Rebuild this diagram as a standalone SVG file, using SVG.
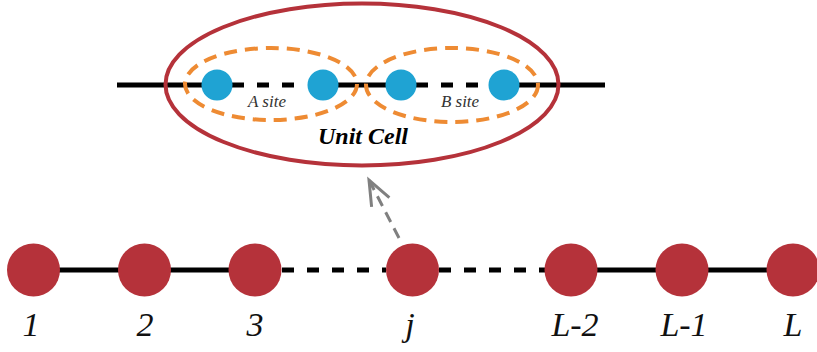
<svg xmlns="http://www.w3.org/2000/svg" width="817" height="352" viewBox="0 0 817 352">
<defs>
<style>
.solid{stroke:#000;stroke-width:5;fill:none}
.dash{stroke:#000;stroke-width:5;fill:none;stroke-dasharray:12 13}
.site{fill:#b5323a}
.blue{fill:#1fa3d3}
.orange{fill:none;stroke:#ee8b33;stroke-width:4;stroke-dasharray:13 8}
.lab{font-family:"Liberation Serif",serif;font-style:italic;font-size:34px;fill:#111;text-anchor:middle}
.small{font-family:"Liberation Serif",serif;font-style:italic;font-size:17px;fill:#333;text-anchor:middle}
.uc{font-family:"Liberation Serif",serif;font-style:italic;font-weight:bold;font-size:24px;fill:#000;text-anchor:middle}
</style>
<marker id="arr" markerWidth="34" markerHeight="26" refX="30" refY="13" orient="auto" markerUnits="userSpaceOnUse">
<path d="M5,3 L30,13 L5,23" fill="none" stroke="#808080" stroke-width="3"/>
</marker>
</defs>
<g id="connectors">
<line class="solid" x1="33" y1="270" x2="255" y2="270"/>
<line class="dash" x1="282" y1="270" x2="386" y2="270"/>
<line class="dash" x1="439" y1="270" x2="545" y2="270"/>
<line class="solid" x1="571" y1="270" x2="793" y2="270"/>
<line class="solid" x1="117" y1="85" x2="216" y2="85"/>
<line class="dash" x1="232" y1="85" x2="307" y2="85"/>
<line class="solid" x1="322" y1="85" x2="401" y2="85"/>
<line class="dash" x1="416" y1="85" x2="489" y2="85"/>
<line class="solid" x1="504" y1="85" x2="605" y2="85"/>
<line x1="399" y1="238" x2="369" y2="180" stroke="#808080" stroke-width="3" stroke-dasharray="11 7" marker-end="url(#arr)"/>
</g>
<g id="unit-cell">
<ellipse cx="362" cy="84.5" rx="196.5" ry="81" fill="none" stroke="#b5323a" stroke-width="4"/>
<text class="uc" x="363" y="144">Unit Cell</text>
</g>
<g id="a-site">
<ellipse class="orange" cx="271" cy="84" rx="86" ry="36"/>
<circle class="blue" cx="217" cy="85" r="15.5"/>
<circle class="blue" cx="323" cy="85" r="15.5"/>
<text class="small" x="267" y="107">A site</text>
</g>
<g id="b-site">
<ellipse class="orange" cx="452" cy="85" rx="86" ry="37"/>
<circle class="blue" cx="401" cy="85" r="15.5"/>
<circle class="blue" cx="504" cy="85" r="15.5"/>
<text class="small" x="460" y="107">B site</text>
</g>
<g id="node-1"><circle class="site" cx="33.5" cy="270" r="26.5"/><text class="lab" x="31" y="336">1</text></g>
<g id="node-2"><circle class="site" cx="144.5" cy="270" r="26.5"/><text class="lab" x="145" y="336">2</text></g>
<g id="node-3"><circle class="site" cx="255" cy="270" r="26.5"/><text class="lab" x="255" y="336">3</text></g>
<g id="node-j"><circle class="site" cx="412.5" cy="270" r="26.5"/><text class="lab" x="410" y="336">j</text></g>
<g id="node-L-2"><circle class="site" cx="571" cy="270" r="26.5"/><text class="lab" x="575" y="336">L-2</text></g>
<g id="node-L-1"><circle class="site" cx="682" cy="270" r="26.5"/><text class="lab" x="684" y="336">L-1</text></g>
<g id="node-L"><circle class="site" cx="793" cy="270" r="26.5"/><text class="lab" x="793" y="336">L</text></g>
</svg>
